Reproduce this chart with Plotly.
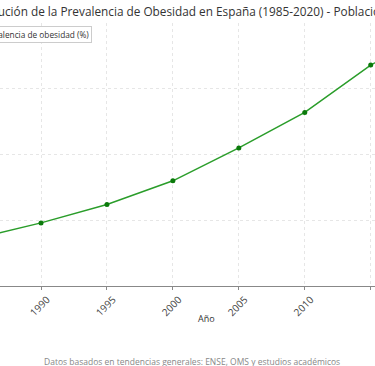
import plotly.graph_objects as go

years = [1985, 1990, 1995, 2000, 2005, 2010, 2015, 2020]
prevalence = [8.6, 9.8, 11.2, 13.0, 15.5, 18.2, 21.8, 24.5]
tick_years = [1985, 1990, 1995, 2000, 2005, 2010, 2015, 2020]
tick_labels = [str(y) for y in tick_years]

title_text = "Evolución de la Prevalencia de Obesidad en España (1985-2020) - Población Adulta"
series_name = "Prevalencia de obesidad (%)"
x_title = "Año"
footnote = "Datos basados en tendencias generales: ENSE, OMS y estudios académicos"

FONT = "Open Sans, sans-serif"

fig = go.Figure()
fig.add_trace(go.Scatter(
    x=years, y=prevalence, mode="lines+markers", name=series_name,
    line=dict(color="#2a9d2a", width=1.5),
    marker=dict(color="#0b7a0b", size=5),
    showlegend=False,
))

W, H = 375, 366
PT, PB = 23, 286  # plot top / bottom in px
PH = PB - PT


def py(v):
    return (PB - v) / PH


fig.update_layout(
    width=W, height=H,
    margin=dict(l=0, r=0, t=PT, b=H - PB, pad=0),
    paper_bgcolor="white", plot_bgcolor="white",
    font=dict(family=FONT, color="#444"),
    title=dict(text=title_text, x=0.535, xanchor="center", y=1 - 12 / H, yanchor="middle",
               xref="container", yref="container",
               font=dict(size=11.8, color="#333", family=FONT)),
    showlegend=False,
    xaxis=dict(range=[1986.891, 2015.326], tickvals=tick_years, ticktext=tick_labels,
               tickangle=-45, tickfont=dict(size=10, color="#444"), ticklabelshift=6,
               showgrid=True, gridcolor="#e6e6e6", griddash="dot", gridwidth=1,
               showline=True, linecolor="#888888", linewidth=1,
               ticks="outside", ticklen=3, tickcolor="#888888",
               zeroline=False, automargin=False),
    yaxis=dict(range=[5, 25], tickvals=[5, 10, 15, 20],
               showticklabels=False,
               showgrid=True, gridcolor="#e6e6e6", griddash="dot", gridwidth=1,
               showline=False, zeroline=False, automargin=False),
    annotations=[
        # legend box (series name), partially off the left edge like the reference
        dict(text=series_name, x=92 / W, xref="paper", y=py(26), yref="paper",
             xanchor="right", yanchor="top", showarrow=False,
             bordercolor="#cccccc", borderwidth=1, borderpad=2, bgcolor="white",
             font=dict(size=8.3, color="#333")),
        dict(text=x_title, x=206 / W, xref="paper", y=py(318), yref="paper",
             xanchor="center", yanchor="middle", showarrow=False,
             font=dict(size=9, color="#333")),
        dict(text=footnote, x=192 / W, xref="paper", y=py(361), yref="paper",
             xanchor="center", yanchor="middle", showarrow=False,
             font=dict(size=8.5, color="#888")),
    ],
)

fig.write_html("out.html", config={"displayModeBar": False},
               post_script="document.body.style.margin='0px';")
